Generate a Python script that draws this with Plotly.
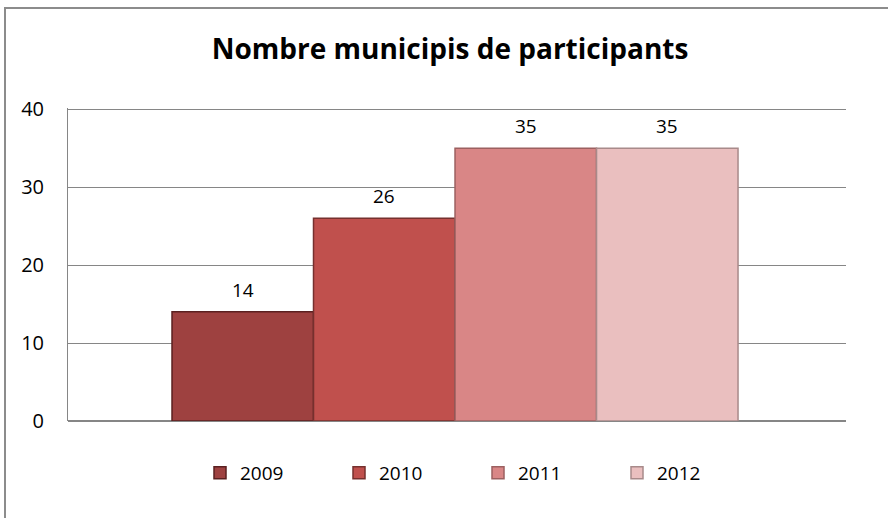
import plotly.graph_objects as go

years = ["2009", "2010", "2011", "2012"]
values = [14, 26, 35, 35]
colors = ["#9E4140", "#C0504D", "#D98686", "#EABFBF"]
edge_colors = ["#5A2020", "#76302E", "#9C6060", "#A88A8A"]
y_ticks = [0, 10, 20, 30, 40]

W, H = 888, 518
ML, MR, MT, MB = 68, 42, 108, 97
FONT = "Open Sans, Noto Sans, sans-serif"

fig = go.Figure()
for i, (yr, v, c, ec) in enumerate(zip(years, values, colors, edge_colors)):
    fig.add_trace(go.Bar(
        x=[yr], y=[v], name=yr, width=1,
        marker=dict(color=c, line=dict(color=ec, width=1.5)),
        hoverinfo="name+y",
    ))
    fig.add_annotation(x=i, y=v, xref="x", yref="y", text=str(v), showarrow=False,
                       yshift=22, yanchor="middle",
                       font=dict(family=FONT, size=19, color="#000000"))

pw = W - ML - MR
ph = H - MT - MB
fig.add_shape(type="rect", xref="paper", yref="paper",
              x0=(5 - ML) / pw, x1=(W + 5 - ML) / pw,
              y0=(H - MB - (H + 5)) / ph, y1=(H - MB - 8) / ph,
              line=dict(color="#8C8C8C", width=2), fillcolor="rgba(0,0,0,0)", layer="below")

fig.update_layout(
    width=W, height=H,
    margin=dict(l=ML, r=MR, t=MT, b=MB, pad=0),
    paper_bgcolor="white", plot_bgcolor="white",
    barmode="overlay",
    title=dict(text="<b>Nombre municipis de participants</b>",
               x=450 / W, xanchor="center",
               y=1 - 49 / H, yanchor="middle",
               font=dict(family=FONT, size=28, color="#000000")),
    xaxis=dict(type="category", range=[-1.235, 4.263], showticklabels=False, showgrid=False,
               showline=False, zeroline=False, ticks=""),
    yaxis=dict(range=[0, 40.15], tickvals=y_ticks, showgrid=True,
               gridcolor="#868686", gridwidth=1,
               showline=True, linecolor="#868686", linewidth=1, zeroline=True,
               zerolinecolor="#868686", zerolinewidth=2, ticks="", ticklabelstandoff=19,
               tickfont=dict(family=FONT, size=20, color="#000000")),
    legend=dict(orientation="h", x=(200 - ML) / pw, xanchor="left",
                y=-(473 - (H - MB)) / ph, yanchor="middle",
                entrywidth=94, entrywidthmode="pixels", traceorder="normal",
                font=dict(family=FONT, size=19, color="#000000")),
    showlegend=True,
)

fig.write_html("out.html", config={"displayModeBar": False},
               post_script="document.body.style.margin='0';")
